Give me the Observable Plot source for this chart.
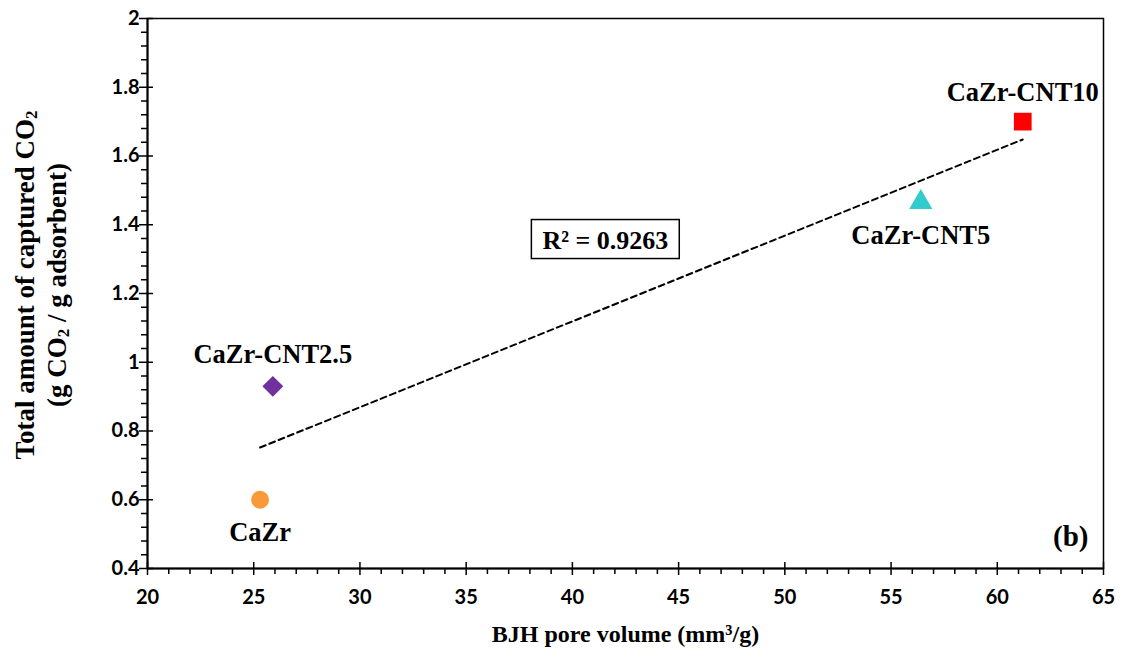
<!DOCTYPE html>
<html>
<head>
<meta charset="utf-8">
<script src="https://cdn.jsdelivr.net/npm/d3@7"></script>
<script src="https://cdn.jsdelivr.net/npm/@observablehq/plot@0.6"></script>
<style>
  html, body { margin: 0; padding: 0; background: #fff; }
  #chart svg { display: block; }
</style>
</head>
<body>
<div id="chart"></div>
<script>
// Samples and their measured values
const samples = ["CaZr", "CaZr-CNT2.5", "CaZr-CNT5", "CaZr-CNT10"];
const poreVolume = [25.3, 25.9, 56.4, 61.2];      // BJH pore volume, mm3/g
const co2Captured = [0.60, 0.93, 1.465, 1.70];    // g CO2 / g adsorbent
const r2Text = "R² = 0.9263";
const panelTag = "(b)";

// Axis ticks
const xTicks = [20, 25, 30, 35, 40, 45, 50, 55, 60, 65];
const yTicks = [0.4, 0.6, 0.8, 1.0, 1.2, 1.4, 1.6, 1.8, 2.0];
const xMinor = d3.range(20, 66).filter(v => v % 5 !== 0);
const yMinor = d3.range(10, 51).filter(i => i % 5 !== 0).map(i => +(i * 0.04).toFixed(2));

// Marker look for each sample
const markerStyle = {
  "CaZr":        { symbol: "circle",   fill: "#F99A38", r: 9,   labelDy: 33 },
  "CaZr-CNT2.5": { symbol: "diamond2", fill: "#7030A0", r: 9.4, labelDy: -32 },
  "CaZr-CNT5":   { symbol: "triangle", fill: "#33CCCC", r: 8.6, labelDy: 33 },
  "CaZr-CNT10":  { symbol: "square",   fill: "#FF0000", r: 10,  labelDy: -29 }
};

const data = samples.map((name, i) => ({ name, x: poreVolume[i], y: co2Captured[i] }));

const W = 1121, H = 657;
const M = { top: 18, right: 18, bottom: 89, left: 147 };
const plotW = W - M.left - M.right;
const plotH = H - M.top - M.bottom;

const serif = "'Liberation Serif', 'Times New Roman', serif";
const sans = "Lato, 'Open Sans', sans-serif";
const ink = "#000";

const dotMarks = data.map(d => {
  const s = markerStyle[d.name];
  return Plot.dot([d], { x: "x", y: "y", symbol: s.symbol, fill: s.fill, stroke: "none", r: s.r });
});
const labelMarks = data.map(d => {
  const s = markerStyle[d.name];
  return Plot.text([d], { x: "x", y: "y", text: "name", dy: s.labelDy,
    fontFamily: serif, fontWeight: "bold", fontSize: 26.5, fill: ink });
});

const chart = Plot.plot({
  width: W, height: H,
  marginTop: M.top, marginRight: M.right, marginBottom: M.bottom, marginLeft: M.left,
  style: { background: "#fff", fontFamily: sans, color: ink },
  x: { domain: [20, 65] },
  y: { domain: [0.4, 2] },
  marks: [
    Plot.frame({ stroke: ink, strokeWidth: 1.5 }),
    Plot.ruleX([20], { stroke: ink, strokeWidth: 2 }),
    Plot.ruleY([0.4], { stroke: ink, strokeWidth: 2 }),
    // x ticks: major cross the axis, minor point outward
    Plot.tickX(xTicks, { x: d => d, insetTop: plotH - 6, insetBottom: -7, stroke: ink, strokeWidth: 1.5 }),
    Plot.tickX(xMinor, { x: d => d, insetTop: plotH, insetBottom: -6, stroke: ink, strokeWidth: 1.5 }),
    // y ticks
    Plot.tickY(yTicks, { y: d => d, insetLeft: -8, insetRight: plotW - 6, stroke: ink, strokeWidth: 1.5 }),
    Plot.tickY(yMinor, { y: d => d, insetLeft: -6, insetRight: plotW, stroke: ink, strokeWidth: 1.5 }),
    Plot.axisX({ ticks: xTicks, tickSize: 0, tickPadding: 21, tickFormat: d => String(d),
      fontSize: 20, fontWeight: "bold", fontFamily: sans, fill: ink, label: null }),
    Plot.axisY({ ticks: yTicks, tickSize: 0, tickPadding: 8, tickFormat: d => String(+d.toFixed(1)),
      fontSize: 20, fontWeight: "bold", fontFamily: sans, fill: ink, label: null }),
    // trend line through the four samples
    Plot.linearRegressionY(data, { x: "x", y: "y", ci: 0, stroke: ink, strokeWidth: 2, strokeDasharray: "6,4" }),
    ...dotMarks,
    ...labelMarks,
    Plot.text([r2Text], { x: 41.55, y: 1.355, text: d => d, fontFamily: serif, fontWeight: "bold", fontSize: 26, fill: ink }),
    Plot.text([panelTag], { frameAnchor: "bottom-right", text: d => d, textAnchor: "end", lineAnchor: "bottom",
      dx: -15, dy: -23, fontFamily: serif, fontWeight: "bold", fontSize: 29, fill: ink }),
    Plot.text(["BJH pore volume (mm³/g)"], { frameAnchor: "bottom", text: d => d, dy: 73,
      fontFamily: serif, fontWeight: "bold", fontSize: 24, fill: ink })
  ]
});

document.getElementById("chart").appendChild(chart);

// Box around the R² annotation, sized from the rendered text
const svg = d3.select(chart);
const origin = chart.getBoundingClientRect();
svg.selectAll("text").filter(function () { return this.textContent === r2Text; }).each(function () {
  const b = this.getBoundingClientRect();
  const group = this.parentNode;
  svg.insert("rect", () => group)
    .attr("x", b.left - origin.left - 11).attr("y", b.top - origin.top - 6)
    .attr("width", b.width + 22).attr("height", b.height + 10)
    .attr("fill", "#fff").attr("stroke", ink).attr("stroke-width", 1.5);
});

// Two-line y-axis title with CO2 subscripts
const ytitle = svg.append("g")
  .attr("font-family", serif).attr("font-weight", "bold").attr("font-size", 27)
  .attr("fill", ink).attr("text-anchor", "middle");
function addLine(xPos, parts) {
  const t = ytitle.append("text")
    .attr("transform", `translate(${xPos},${M.top + plotH / 2 - 8}) rotate(-90)`)
    .attr("dominant-baseline", "central");
  let shifted = false;
  parts.forEach(p => {
    if (p.sub) {
      t.append("tspan").attr("font-size", 17).attr("dy", 6).text(p.sub);
      shifted = true;
    } else {
      const s = t.append("tspan").text(p.t);
      if (shifted) { s.attr("dy", -6); shifted = false; }
    }
  });
}
addLine(25, [{ t: "Total amount of captured CO" }, { sub: "2" }]);
addLine(57, [{ t: "(g CO" }, { sub: "2" }, { t: " / g adsorbent)" }]);
</script>
</body>
</html>
